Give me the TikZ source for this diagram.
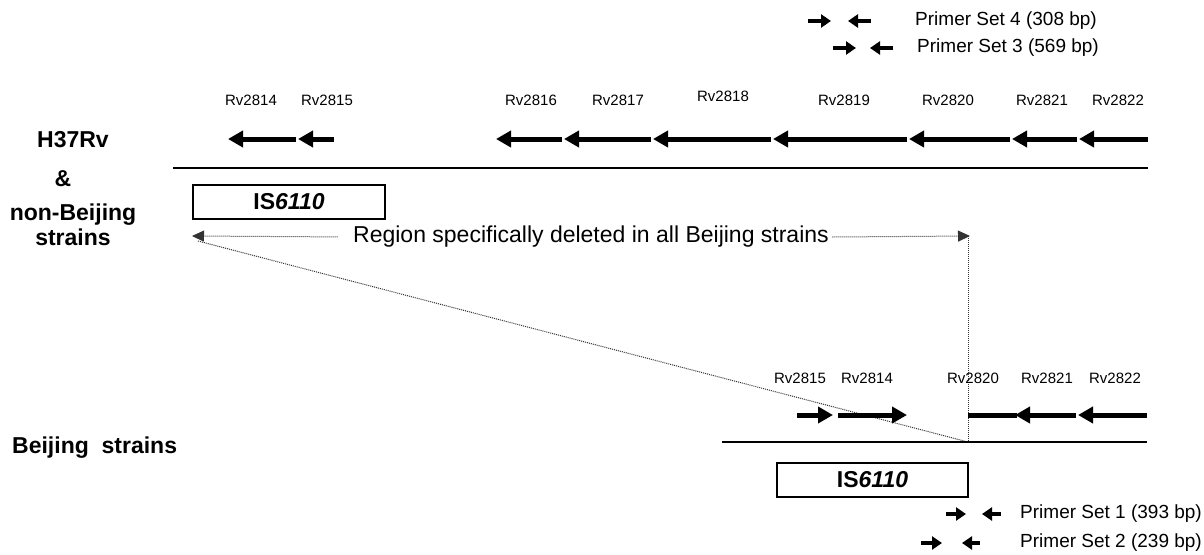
\documentclass[tikz,border=0pt]{standalone}
\usepackage{fontspec}
\setmainfont{Liberation Sans}
\usetikzlibrary{arrows.meta}

\tikzset{
  gene/.style={line width=5pt,-{Triangle[length=15pt,width=16pt]}},
  primer/.style={line width=3.5pt,-{Triangle[length=10pt,width=13pt]}},
  rvlabel/.style={font=\fontsize{15}{18}\selectfont},
  primerlabel/.style={anchor=west,inner sep=0pt,font=\fontsize{19}{22}\selectfont},
  strainlabel/.style={font=\fontsize{23}{27}\selectfont\bfseries},
  isbox/.style={draw,line width=1.3pt,minimum height=34pt,inner sep=0pt,
    font=\fontsize{23}{27}\selectfont\bfseries},
  deleted/.style={densely dotted,line width=1pt,black!80},
  deltip/.style={-{Triangle[length=12pt,width=11pt]}},
}

\begin{document}
\begin{tikzpicture}[x=1pt,y=-1pt]
  \useasboundingbox (0,0) rectangle (1204,554);

  % primer sets above
  \draw[primer] (808,21) -- (831,21);
  \draw[primer] (871,21) -- (848,21);
  \node[primerlabel] (set4) at (915,21) {Primer Set 4 (308 bp)};
  \draw[primer] (833,48) -- (856,48);
  \draw[primer] (893,48) -- (870,48);
  \node[primerlabel] (set3) at (917,48) {Primer Set 3 (569 bp)};

  % H37Rv genes
  \foreach \x/\y/\n in {251/100/2814, 327/100/2815, 531/100/2816, 618/100/2817,
      723/96/2818, 844/100/2819, 948/100/2820, 1042/100/2821, 1118/100/2822}
    \node[rvlabel] (top\n) at (\x,\y) {Rv\n};
  \foreach \s/\t in {296/228, 334/298, 562/496, 651/564, 771/653, 907/773,
      1010/909, 1077/1012, 1148/1079}
    \draw[gene] (\s,139) -- (\t,139);
  \draw[line width=1.3pt] (173,168) -- (1148,168);

  \node[strainlabel] (h37) at (73,140) {H37Rv};
  \node[strainlabel] (amp) at (63,179) {\&};
  \node[strainlabel] (nonbj) at (73,215) {non-Beijing};
  \node[strainlabel] (nonbjs) at (73,237) {strains};

  \node[isbox,minimum width=192pt] (istop) at (289,202) {IS\textit{6110}};

  % deleted region
  \node[font=\fontsize{23}{27}\selectfont] (region) at (591,237)
    {Region specifically deleted in all Beijing strains};
  \coordinate (delL) at (192,236);
  \coordinate (delR) at (970,236);
  \coordinate (diagL) at (198,241);
  \coordinate (junc) at (968,442);
  \draw[deleted,deltip,shorten <=12pt] (region.west) -- (delL);
  \draw[deleted,deltip] (region.east) -- (delR);
  \draw[deleted] (delR -| junc) -- (junc);
  \draw[deleted] (diagL) -- (junc);

  % Beijing strains
  \node[strainlabel,anchor=west,inner sep=0pt] (bj) at (12,448) {Beijing\ \ strains};
  \foreach \x/\n in {800/2815, 867/2814, 973/2820, 1047/2821, 1115/2822}
    \node[rvlabel] (bot\n) at (\x,378) {Rv\n};
  \draw[gene] (797,415) -- (833,415);
  \draw[gene] (838,415) -- (907,415);
  \draw[line width=5pt] (968,415) -- (1017,415);
  \draw[gene] (1076,415) -- (1015,415);
  \draw[gene] (1147,415) -- (1078,415);
  \draw[line width=1.3pt] (722,442) -- (1147,442);

  \node[isbox,minimum width=191pt] (isbot) at (872.5,480) {IS\textit{6110}};

  % primer sets below
  \draw[primer] (946,514) -- (966,514);
  \draw[primer] (1001,514) -- (982,514);
  \node[primerlabel] (set1) at (1020,514) {Primer Set 1 (393 bp)};
  \draw[primer] (921,543) -- (942,543);
  \draw[primer] (980,543) -- (962,543);
  \node[primerlabel] (set2) at (1020,543) {Primer Set 2 (239 bp)};
\end{tikzpicture}
\end{document}
